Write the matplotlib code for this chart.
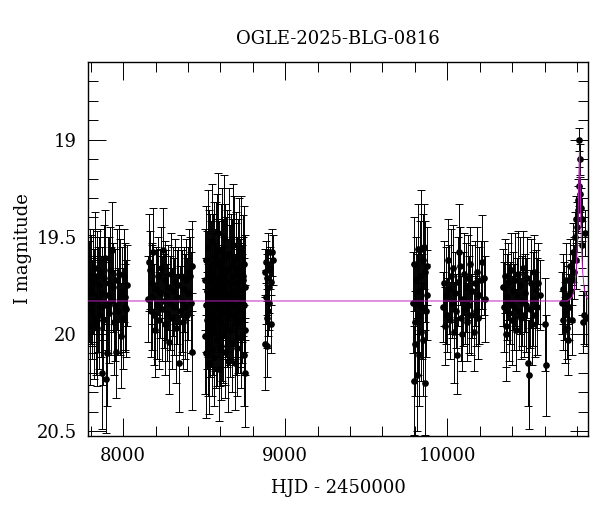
import numpy as np
import matplotlib
matplotlib.use("Agg")
import matplotlib.pyplot as plt
from matplotlib.ticker import MultipleLocator, FormatStrFormatter

plt.rcParams['font.family'] = ['DejaVu Serif']

title = "OGLE-2025-BLG-0816"

# season 1
t1 = [7791, 7794, 7797, 7801, 7806, 7809, 7814, 7818,
      7822, 7827, 7831, 7836, 7840, 7844, 7849, 7853,
      7858, 7863, 7868, 7872, 7877, 7882, 7887, 7891,
      7896, 7900, 7904, 7910, 7915, 7921, 7926, 7932,
      7937, 7943, 7949, 7955, 7961, 7966, 7972, 7978,
      7984, 7990, 7996, 8003, 8009, 8014, 8019, 8023]
m1 = [19.78, 19.96, 19.70, 19.77, 19.88, 19.84, 19.73, 19.92,
      19.80, 19.66, 19.95, 19.70, 19.97, 19.82, 19.75, 19.90,
      19.68, 19.86, 20.20, 19.79, 19.93, 19.71, 19.61, 19.85,
      20.23, 20.10, 19.80, 19.74, 19.89, 19.67, 19.83, 19.57,
      19.76, 19.94, 19.85, 20.09, 19.72, 19.88, 19.69, 19.81,
      20.01, 19.78, 19.92, 19.70, 19.86, 19.81, 19.87, 19.75]
e1 = [0.26, 0.30, 0.24, 0.28, 0.25, 0.22, 0.27, 0.31,
      0.24, 0.29, 0.26, 0.23, 0.30, 0.27, 0.25, 0.28,
      0.22, 0.26, 0.29, 0.24, 0.33, 0.27, 0.25, 0.23,
      0.28, 0.27, 0.30, 0.24, 0.26, 0.22, 0.28, 0.25,
      0.23, 0.27, 0.29, 0.24, 0.26, 0.22, 0.25, 0.30,
      0.27, 0.23, 0.26, 0.24, 0.22, 0.28, 0.25, 0.21]

# season 2
t2 = [8156, 8161, 8166, 8170, 8175, 8180, 8186, 8191,
      8196, 8202, 8208, 8213, 8219, 8225, 8231, 8237,
      8243, 8249, 8255, 8261, 8267, 8273, 8279, 8285,
      8291, 8297, 8303, 8309, 8315, 8321, 8327, 8333,
      8339, 8345, 8351, 8357, 8363, 8369, 8375, 8381,
      8388, 8394, 8400, 8406, 8412, 8417, 8422, 8427]
m2 = [19.82, 19.63, 19.67, 19.88, 19.81, 19.74, 19.58, 19.90,
      19.98, 19.77, 19.85, 19.70, 19.93, 19.79, 19.66, 19.87,
      19.57, 19.83, 19.95, 19.72, 19.80, 19.89, 19.76, 20.04,
      19.84, 19.69, 19.92, 19.78, 19.86, 19.73, 19.97, 19.81,
      19.75, 20.15, 19.88, 19.70, 19.83, 19.94, 19.77, 19.86,
      19.72, 19.90, 19.79, 19.68, 19.70, 19.84, 20.09, 19.65]
e2 = [0.22, 0.25, 0.20, 0.24, 0.27, 0.21, 0.23, 0.26,
      0.24, 0.22, 0.28, 0.20, 0.25, 0.23, 0.21, 0.27,
      0.22, 0.24, 0.26, 0.20, 0.23, 0.25, 0.22, 0.27,
      0.24, 0.21, 0.26, 0.23, 0.25, 0.22, 0.28, 0.24,
      0.20, 0.25, 0.23, 0.21, 0.26, 0.24, 0.22, 0.27,
      0.21, 0.29, 0.24, 0.22, 0.20, 0.26, 0.30, 0.23]

# season 3
t3 = [8505, 8507, 8509, 8512, 8514, 8517, 8519, 8522,
      8524, 8526, 8529, 8531, 8534, 8536, 8538, 8541,
      8543, 8546, 8548, 8550, 8553, 8555, 8558, 8560,
      8562, 8565, 8567, 8570, 8572, 8574, 8577, 8579,
      8582, 8584, 8586, 8589, 8591, 8594, 8596, 8598,
      8601, 8603, 8606, 8608, 8611, 8613, 8616, 8618,
      8621, 8623, 8626, 8629, 8631, 8634, 8637, 8640,
      8642, 8645, 8648, 8651, 8654, 8657, 8660, 8663,
      8666, 8669, 8672, 8675, 8678, 8681, 8684, 8687,
      8690, 8693, 8696, 8699, 8702, 8705, 8708, 8711,
      8714, 8717, 8720, 8723, 8726, 8729, 8732, 8735,
      8738, 8741, 8743, 8745, 8747, 8749, 8751, 8753]
m3 = [19.72, 20.01, 19.85, 20.10, 19.62, 19.93, 19.78, 20.05,
      19.55, 19.88, 19.70, 20.15, 19.81, 19.66, 19.97, 19.74,
      19.90, 19.52, 19.83, 20.08, 19.69, 19.95, 19.77, 19.60,
      20.12, 19.86, 19.73, 19.99, 19.64, 19.80, 20.03, 19.58,
      19.91, 19.75, 19.48, 19.87, 20.18, 19.71, 19.94, 19.82,
      19.63, 20.06, 19.79, 19.56, 19.89, 19.68, 20.00, 19.84,
      19.50, 19.76, 19.96, 19.61, 20.09, 19.73, 19.85, 19.67,
      19.92, 19.80, 20.14, 19.59, 19.88, 19.74, 19.98, 19.65,
      19.83, 20.04, 19.70, 19.54, 19.90, 19.78, 19.62, 20.15,
      19.86, 19.73, 19.95, 19.66, 19.81, 20.07, 19.69, 19.88,
      19.77, 19.60, 19.93, 19.84, 20.02, 19.58, 19.79, 19.87,
      19.70, 19.72, 20.11, 19.64, 19.85, 20.20, 19.98, 19.76]
e3 = [0.26, 0.30, 0.24, 0.33, 0.28, 0.25, 0.31, 0.27,
      0.29, 0.24, 0.34, 0.26, 0.30, 0.28, 0.25, 0.32,
      0.27, 0.29, 0.35, 0.24, 0.31, 0.26, 0.30, 0.28,
      0.25, 0.33, 0.27, 0.29, 0.32, 0.26, 0.24, 0.30,
      0.28, 0.34, 0.31, 0.25, 0.27, 0.29, 0.33, 0.26,
      0.30, 0.28, 0.24, 0.31, 0.35, 0.27, 0.25, 0.29,
      0.32, 0.26, 0.30, 0.28, 0.24, 0.33, 0.27, 0.31,
      0.25, 0.29, 0.26, 0.34, 0.28, 0.30, 0.24, 0.27,
      0.32, 0.26, 0.29, 0.31, 0.25, 0.28, 0.33, 0.24,
      0.27, 0.30, 0.26, 0.29, 0.31, 0.25, 0.28, 0.32,
      0.24, 0.30, 0.27, 0.33, 0.26, 0.29, 0.25, 0.28,
      0.31, 0.22, 0.26, 0.30, 0.24, 0.28, 0.23, 0.27]

# season 4
t4 = [8876, 8878, 8880, 8883, 8885, 8888, 8890, 8893,
      8896, 8899, 8902, 8905, 8909, 8913, 8918, 8922]
m4 = [19.68, 20.05, 19.81, 19.63, 19.92, 19.71, 20.06, 19.88,
      19.58, 19.76, 19.84, 19.66, 19.95, 19.73, 19.58, 19.62]
e4 = [0.12, 0.24, 0.14, 0.11, 0.15, 0.12, 0.16, 0.13,
      0.10, 0.13, 0.14, 0.11, 0.15, 0.12, 0.12, 0.13]

# season 5
t5 = [9791, 9794, 9797, 9800, 9803, 9807, 9810, 9814,
      9817, 9821, 9825, 9828, 9832, 9836, 9840, 9844,
      9848, 9852, 9856, 9860, 9864, 9868, 9872, 9876]
m5 = [19.84, 20.24, 19.64, 19.94, 20.05, 19.72, 19.84, 20.21,
      19.56, 19.90, 20.11, 19.78, 19.70, 19.99, 19.56, 19.86,
      19.62, 20.03, 19.55, 20.25, 19.68, 19.88, 19.80, 19.65]
e5 = [0.26, 0.28, 0.24, 0.30, 0.27, 0.22, 0.25, 0.29,
      0.23, 0.31, 0.26, 0.22, 0.28, 0.25, 0.30, 0.27,
      0.24, 0.29, 0.22, 0.27, 0.26, 0.24, 0.23, 0.20]

# season 6
t6 = [9976, 9982, 9988, 9994, 10000, 10006, 10012, 10018,
      10024, 10030, 10036, 10042, 10048, 10054, 10060, 10066,
      10072, 10078, 10084, 10090, 10096, 10102, 10108, 10114,
      10120, 10127, 10134, 10141, 10148, 10155, 10162, 10169,
      10176, 10183, 10190, 10198, 10206, 10214, 10224, 10235]
m6 = [19.86, 19.74, 19.96, 19.80, 19.90, 19.62, 19.77, 19.93,
      19.70, 19.84, 19.66, 19.99, 19.79, 19.88, 20.11, 19.73,
      19.58, 19.65, 19.92, 20.00, 19.82, 19.69, 19.87, 19.76,
      19.94, 19.71, 19.85, 19.64, 19.90, 19.78, 19.99, 19.74,
      19.88, 19.68, 19.92, 19.80, 19.72, 19.63, 19.71, 19.82]
e6 = [0.18, 0.22, 0.20, 0.25, 0.19, 0.21, 0.23, 0.20,
      0.24, 0.18, 0.22, 0.26, 0.21, 0.19, 0.20, 0.23,
      0.25, 0.20, 0.22, 0.19, 0.24, 0.21, 0.18, 0.23,
      0.20, 0.22, 0.25, 0.19, 0.21, 0.24, 0.20, 0.22,
      0.18, 0.23, 0.21, 0.25, 0.20, 0.24, 0.19, 0.22]

# season 7
t7 = [10341, 10347, 10353, 10359, 10365, 10371, 10377, 10383,
      10389, 10395, 10401, 10407, 10413, 10419, 10425, 10431,
      10437, 10443, 10449, 10455, 10461, 10467, 10473, 10479,
      10485, 10491, 10497, 10503, 10509, 10515, 10521, 10527,
      10533, 10539, 10546, 10553, 10561, 10570, 10600, 10608]
m7 = [19.76, 19.86, 19.70, 19.96, 20.00, 19.81, 19.73, 19.89,
      19.84, 19.67, 19.93, 19.78, 19.86, 19.72, 19.98, 19.80,
      19.69, 19.88, 19.75, 19.92, 19.83, 19.66, 19.90, 19.79,
      19.85, 19.71, 20.15, 20.21, 19.87, 19.74, 19.95, 19.82,
      19.68, 19.90, 19.77, 19.86, 19.74, 19.80, 19.95, 20.16]
e7 = [0.20, 0.23, 0.19, 0.21, 0.24, 0.22, 0.20, 0.25,
      0.21, 0.19, 0.23, 0.20, 0.22, 0.24, 0.21, 0.19,
      0.22, 0.20, 0.25, 0.21, 0.23, 0.19, 0.22, 0.20,
      0.24, 0.21, 0.22, 0.28, 0.20, 0.23, 0.21, 0.24,
      0.19, 0.22, 0.20, 0.25, 0.21, 0.18, 0.24, 0.26]

# season 8 (event)
t8 = [10708, 10712, 10716, 10720, 10724, 10728, 10732, 10737,
      10742, 10747, 10752, 10757, 10762, 10767, 10772, 10777,
      10782, 10787, 10792, 10797, 10801, 10805, 10809, 10813,
      10815, 10818, 10821, 10825, 10829, 10834, 10839, 10845,
      10850, 10855]
m8 = [19.84, 19.77, 19.93, 19.83, 19.98, 19.88, 19.72, 19.97,
      20.03, 19.80, 19.86, 19.65, 19.78, 19.93, 19.72, 19.58,
      19.68, 19.50, 19.62, 19.41, 19.45, 19.31, 19.36, 19.24,
      19.00, 19.10, 19.28, 19.35, 19.41, 19.54, 19.94, 19.90,
      19.48, 19.92]
e8 = [0.16, 0.18, 0.15, 0.20, 0.17, 0.15, 0.19, 0.16,
      0.18, 0.15, 0.17, 0.14, 0.16, 0.18, 0.13, 0.15,
      0.14, 0.13, 0.15, 0.12, 0.13, 0.11, 0.12, 0.10,
      0.06, 0.08, 0.09, 0.10, 0.11, 0.12, 0.16, 0.15,
      0.12, 0.14]

# model curve
model_t = [7783, 10740, 10770, 10785, 10795, 10802, 10807, 10811,
           10815, 10819, 10823, 10828, 10835, 10845, 10858, 10868]
model_m = [19.83, 19.83, 19.81, 19.77, 19.68, 19.55, 19.40, 19.22,
           19.06, 19.20, 19.38, 19.55, 19.68, 19.77, 19.81, 19.82]

t = np.concatenate([t1, t2, t3, t4, t5, t6, t7, t8])
m = np.concatenate([m1, m2, m3, m4, m5, m6, m7, m8])
e = np.concatenate([e1, e2, e3, e4, e5, e6, e7, e8])

fig = plt.figure(figsize=(6, 5.12), dpi=100)
ax = fig.add_axes([0.1467, 0.1484, 0.8333, 0.7305])

ax.errorbar(t, m, yerr=e, fmt='o', color='black', ms=3.8,
            elinewidth=0.7, capsize=3, capthick=0.7)
ax.plot(model_t, model_m, color='#c020c0', lw=0.7, zorder=5)

ax.set_xlim(7783, 10868)
ax.set_ylim(20.525, 18.6)

ax.xaxis.set_major_locator(MultipleLocator(1000))
ax.xaxis.set_minor_locator(MultipleLocator(200))
ax.yaxis.set_major_locator(MultipleLocator(0.5))
ax.yaxis.set_minor_locator(MultipleLocator(0.1))
ax.yaxis.set_major_formatter(FormatStrFormatter('%g'))
ax.tick_params(which='both', direction='in', top=True, right=True,
               labelsize=13, width=0.7)
ax.tick_params(which='major', length=13, pad=8)
ax.tick_params(which='minor', length=7)
for s in ax.spines.values():
    s.set_linewidth(1.0)

ax.set_title(title, fontsize=13, pad=13)
ax.set_xlabel("HJD - 2450000", fontsize=13, labelpad=10)
ax.set_ylabel("I magnitude", fontsize=13, labelpad=3)

fig.savefig("out.png", dpi=100)
